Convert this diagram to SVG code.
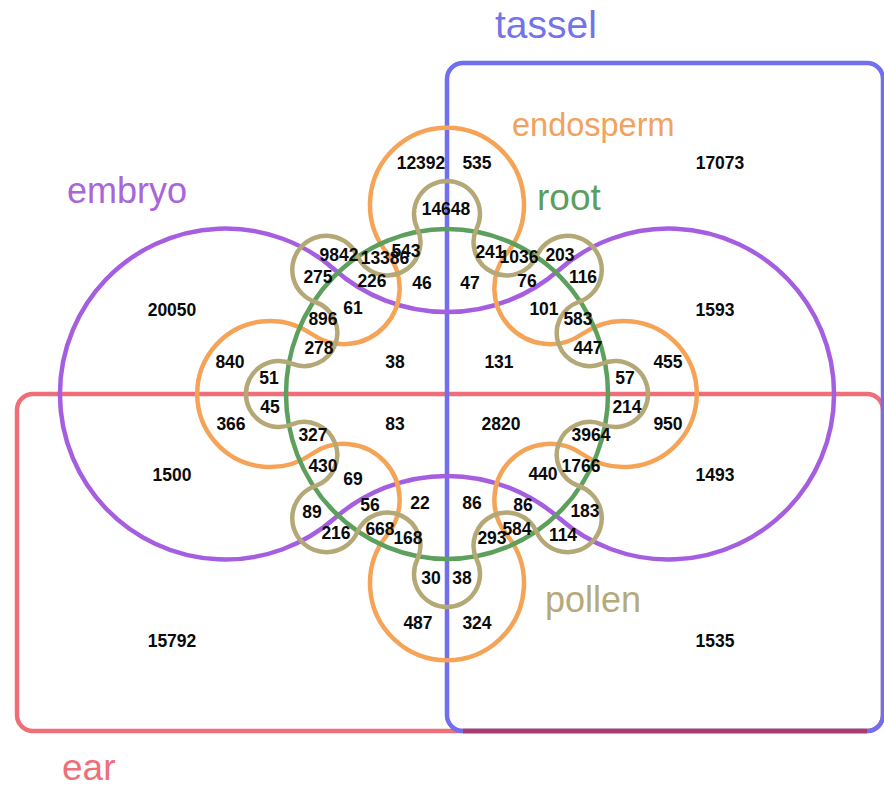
<svg xmlns="http://www.w3.org/2000/svg" width="884" height="787" viewBox="0 0 884 787">
  <style>
    .set { fill: none; stroke-width: 4.5; stroke-linejoin: round; }
    .lbl { font-family: "Liberation Sans", Arial, sans-serif; }
    .num { font-family: "Liberation Sans", Arial, sans-serif; font-weight: bold; font-size: 17.5px; fill: #0a0a0a; text-anchor: middle; }
  </style>
  <rect width="884" height="787" fill="#ffffff"/>

  <!-- ear: lower half box -->
  <g id="ear">
    <rect class="set" x="17" y="394" width="866" height="337" rx="16" stroke="#ef6f78"/>
    <text class="lbl" x="62" y="780" font-size="37" fill="#ef6f78">ear</text>
  </g>

  <!-- tassel: right half box -->
  <g id="tassel">
    <rect class="set" x="447" y="63" width="436" height="668" rx="16" stroke="#716ef0"/>
    <path class="set" d="M 463 731 H 867" stroke="#a83e70"/>
    <text class="lbl" x="495" y="38" font-size="39" fill="#7474e8">tassel</text>
  </g>

  <!-- embryo: two side lobes joined through the middle -->
  <g id="embryo">
    <path class="set" stroke="#a65ee0" d="M 559.3 269.7 A 170 170 0 0 1 334.7 269.7 A 165.5 165.5 0 1 0 334.7 518.3 A 170 170 0 0 1 559.3 518.3 A 165.5 165.5 0 1 0 559.3 269.7 Z"/>
    <text class="lbl" x="67" y="203" font-size="36" fill="#a866d8">embryo</text>
  </g>

  <!-- endosperm: four lobes -->
  <g id="endosperm">
    <path class="set" stroke="#f5a457" d="M 506.8 253.2 A 77 77 0 1 0 387.2 253.2 A 55.8 55.8 0 0 1 311.8 334.0 A 73 73 0 1 0 311.8 454.0 A 55.8 55.8 0 0 1 387.2 534.8 A 77 77 0 1 0 506.8 534.8 A 55.8 55.8 0 0 1 582.2 454.0 A 73 73 0 1 0 582.2 334.0 A 55.8 55.8 0 0 1 506.8 253.2 Z"/>
    <text class="lbl" x="512" y="136" font-size="32.5" fill="#f2a25c">endosperm</text>
  </g>

  <!-- root: central circle -->
  <g id="root">
    <ellipse class="set" cx="447" cy="394" rx="161" ry="165" stroke="#5da05d"/>
    <text class="lbl" x="537" y="210" font-size="37" fill="#5c9e5c">root</text>
  </g>

  <!-- pollen: eight lobes around the circle -->
  <g id="pollen">
    <path class="set" stroke="#b4a876" d="M 476.8 228.2 A 33 33 0 1 0 417.2 228.2 A 33 33 0 1 1 357.3 255.9 A 34 34 0 1 0 315.4 302.0 A 33 33 0 1 1 292.0 363.7 A 33 33 0 1 0 292.0 424.3 A 33 33 0 1 1 315.4 486.0 A 34 34 0 1 0 357.3 532.1 A 33 33 0 1 1 417.2 559.8 A 33 33 0 1 0 476.8 559.8 A 33 33 0 1 1 536.7 532.1 A 34 34 0 1 0 578.6 486.0 A 33 33 0 1 1 602.0 424.3 A 33 33 0 1 0 602.0 363.7 A 33 33 0 1 1 578.6 302.0 A 34 34 0 1 0 536.7 255.9 A 33 33 0 1 1 476.8 228.2 Z"/>
    <text class="lbl" x="545" y="612" font-size="36" fill="#b5aa78">pollen</text>
  </g>

  <!-- region counts -->
  <g id="counts">
    <text class="num" x="421" y="169">12392</text>
    <text class="num" x="477" y="169">535</text>
    <text class="num" x="720" y="169">17073</text>
    <text class="num" x="446" y="215">14648</text>
    <text class="num" x="339" y="261">9842</text>
    <text class="num" x="385" y="264">13386</text>
    <text class="num" x="406" y="257">543</text>
    <text class="num" x="490" y="258">241</text>
    <text class="num" x="519" y="263">1036</text>
    <text class="num" x="560" y="261">203</text>
    <text class="num" x="318" y="283">275</text>
    <text class="num" x="372" y="287">226</text>
    <text class="num" x="422" y="289">46</text>
    <text class="num" x="470" y="289">47</text>
    <text class="num" x="527" y="287">76</text>
    <text class="num" x="583" y="283">116</text>
    <text class="num" x="172" y="316">20050</text>
    <text class="num" x="353" y="314">61</text>
    <text class="num" x="323" y="325">896</text>
    <text class="num" x="544" y="315">101</text>
    <text class="num" x="578" y="325">583</text>
    <text class="num" x="715" y="316">1593</text>
    <text class="num" x="319" y="354">278</text>
    <text class="num" x="588" y="354">447</text>
    <text class="num" x="230" y="368">840</text>
    <text class="num" x="395" y="368">38</text>
    <text class="num" x="499" y="368">131</text>
    <text class="num" x="668" y="368">455</text>
    <text class="num" x="269" y="384">51</text>
    <text class="num" x="625" y="384">57</text>
    <text class="num" x="270" y="413">45</text>
    <text class="num" x="627" y="413">214</text>
    <text class="num" x="231" y="430">366</text>
    <text class="num" x="395" y="430">83</text>
    <text class="num" x="501" y="430">2820</text>
    <text class="num" x="668" y="430">950</text>
    <text class="num" x="313" y="441">327</text>
    <text class="num" x="591" y="441">3964</text>
    <text class="num" x="323" y="472">430</text>
    <text class="num" x="581" y="472">1766</text>
    <text class="num" x="353" y="485">69</text>
    <text class="num" x="543" y="480">440</text>
    <text class="num" x="172" y="481">1500</text>
    <text class="num" x="715" y="481">1493</text>
    <text class="num" x="312" y="518">89</text>
    <text class="num" x="370" y="511">56</text>
    <text class="num" x="420" y="509">22</text>
    <text class="num" x="472" y="509">86</text>
    <text class="num" x="523" y="511">86</text>
    <text class="num" x="585" y="517">183</text>
    <text class="num" x="336" y="539">216</text>
    <text class="num" x="380" y="535">668</text>
    <text class="num" x="408" y="544">168</text>
    <text class="num" x="492" y="544">293</text>
    <text class="num" x="517" y="535">584</text>
    <text class="num" x="563" y="541">114</text>
    <text class="num" x="431" y="584">30</text>
    <text class="num" x="462" y="584">38</text>
    <text class="num" x="418" y="629">487</text>
    <text class="num" x="477" y="629">324</text>
    <text class="num" x="172" y="647">15792</text>
    <text class="num" x="715" y="647">1535</text>
  </g>
</svg>
